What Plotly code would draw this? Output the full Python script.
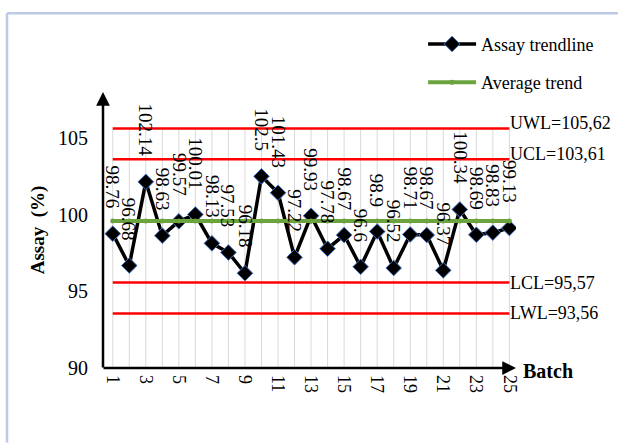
import plotly.graph_objects as go

batches = list(range(1, 26))
assay = [98.76, 96.68, 102.14, 98.63, 99.57, 100.01, 98.13, 97.53, 96.18, 102.5,
         101.43, 97.22, 99.93, 97.78, 98.67, 96.6, 98.9, 96.52, 98.71, 98.67,
         96.37, 100.34, 98.69, 98.83, 99.13]
average = [99.59] * 25
limit_names = ["UWL", "UCL", "LCL", "LWL"]
limit_values = [105.62, 103.61, 95.57, 93.56]
limit_label_shift = [5, 5, 0, 0]
x_tickvals = list(range(1, 26, 2))
y_tickvals = [90, 95, 100, 105]

FONT = "Liberation Serif"
XMIN, XMAX = 0.41, 25.4
YMIN, YMAX = 90, 108

fig = go.Figure()

fig.add_trace(go.Scatter(
    x=batches, y=assay, mode="lines+markers", name="Assay trendline",
    line=dict(color="black", width=3.5),
    marker=dict(symbol="diamond", size=12, color="black",
                line=dict(color="#4472C4", width=1)),
    legendgroup="a",
))
fig.add_trace(go.Scatter(
    x=batches, y=average, mode="lines+markers", name="Average trend",
    line=dict(color="#6BA33E", width=4),
    marker=dict(symbol="circle", size=5, color="#6BA33E"),
    legendgroup="b",
))

shapes = []
# vertical gridlines
for b in batches:
    shapes.append(dict(type="line", xref="x", yref="y", x0=b, x1=b,
                       y0=YMIN, y1=limit_values[0],
                       line=dict(color="#d9d9d9", width=1), layer="below"))
# control / warning limit lines
for v in limit_values:
    shapes.append(dict(type="line", xref="x", yref="y", x0=batches[0], x1=batches[-1],
                       y0=v, y1=v, line=dict(color="#FF0000", width=2.5), layer="below"))
# outer frame drawn in pixel terms of the page: top and left edges
shapes.append(dict(type="line", xref="paper", yref="paper",
                   x0=-0.2324, x1=1.25, y0=1.2856, y1=1.2856,
                   line=dict(color="#bccbe3", width=2.5), layer="below"))
shapes.append(dict(type="line", xref="paper", yref="paper",
                   x0=-0.2324, x1=-0.2324, y0=-0.27, y1=1.2856,
                   line=dict(color="#bccbe3", width=2.5), layer="below"))

annotations = []
# data labels (rotated)
for b, v in zip(batches, assay):
    annotations.append(dict(x=b, y=v, xref="x", yref="y", text=f"{v:g}",
                            textangle=90, showarrow=False, yanchor="bottom",
                            xanchor="center", yshift=23,
                            font=dict(family=FONT, size=19, color="black")))
# limit labels
for n, v, s in zip(limit_names, limit_values, limit_label_shift):
    annotations.append(dict(x=batches[-1], y=v, xref="x", yref="y",
                            text=f"{n}={v:.2f}".replace(".", ","),
                            showarrow=False, xanchor="left", yanchor="middle",
                            xshift=-1, yshift=s,
                            font=dict(family=FONT, size=18, color="black")))
# axis arrows
annotations.append(dict(x=0, y=1, xref="paper", yref="paper", ax=0, ay=277,
                        axref="pixel", ayref="pixel", showarrow=True, arrowhead=2,
                        arrowsize=1.1, arrowwidth=2.5, arrowcolor="black", text=""))
annotations.append(dict(x=1, y=0, xref="paper", yref="paper", ax=-414, ay=0,
                        axref="pixel", ayref="pixel", showarrow=True, arrowhead=2,
                        arrowsize=1.1, arrowwidth=2.5, arrowcolor="black", text=""))
annotations.append(dict(x=1, y=0, xref="paper", yref="paper", text="<b>Batch</b>",
                        showarrow=False, xanchor="left", yanchor="middle",
                        xshift=5, yshift=-3,
                        font=dict(family=FONT, size=20, color="black")))

fig.update_layout(
    width=618, height=443,
    margin=dict(l=103, r=102, t=92, b=75),
    paper_bgcolor="white", plot_bgcolor="white",
    font=dict(family=FONT, size=18, color="black"),
    shapes=shapes, annotations=annotations,
    legend=dict(x=0.775, y=1.24, xanchor="left", yanchor="top",
                font=dict(family=FONT, size=18, color="black"),
                bgcolor="rgba(0,0,0,0)", borderwidth=0, tracegroupgap=12,
                traceorder="grouped", itemwidth=48),
    showlegend=True,
)
fig.update_xaxes(range=[XMIN, XMAX], tickvals=x_tickvals, tickangle=90,
                 showgrid=False, zeroline=False, showline=False, ticks="",
                 tickfont=dict(family=FONT, size=18), ticklabelstandoff=6)
fig.update_yaxes(range=[YMIN, YMAX], tickvals=y_tickvals, showgrid=False,
                 zeroline=False, showline=False, ticks="",
                 tickfont=dict(family=FONT, size=20), ticklabelstandoff=14,
                 title=dict(text="<b>Assay  (%)</b>", standoff=8,
                            font=dict(family=FONT, size=19)))

fig.write_html("out.html", config={"displayModeBar": False, "responsive": False},
               post_script=("document.body.style.margin='0';"
                            "document.body.style.overflow='hidden';"
                            "document.documentElement.style.overflow='hidden';"))
